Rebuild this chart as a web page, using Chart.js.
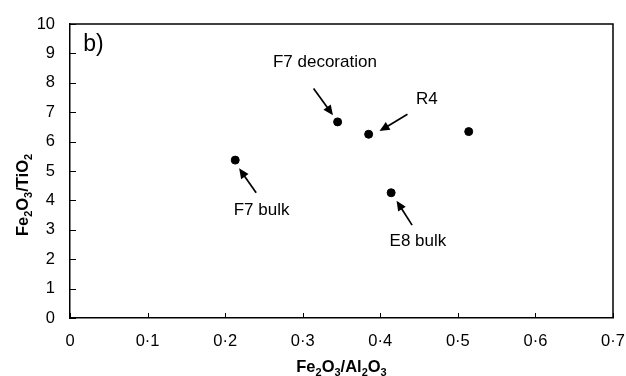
<!DOCTYPE html>
<html>
<head>
<meta charset="utf-8">
<script src="https://cdn.jsdelivr.net/npm/chart.js@4.4.1/dist/chart.umd.min.js"></script>
<style>
  html, body { margin: 0; padding: 0; background: #fff; }
  #wrap { width: 626px; height: 376px; }
</style>
</head>
<body>
<div id="wrap"><canvas id="chart" width="626" height="376"></canvas></div>
<script>
// data
const xVals = [0.213, 0.345, 0.385, 0.514, 0.414];
const yVals = [5.37, 6.67, 6.25, 6.34, 4.26];
const xTickLabels = ['0', '0·1', '0·2', '0·3', '0·4', '0·5', '0·6', '0·7'];
const yTickLabels = ['0', '1', '2', '3', '4', '5', '6', '7', '8', '9', '10'];

// annotation labels and arrows (data units)
const labels = [
    { text: 'F7 decoration', x: 0.3286, y: 8.71 },
    { text: 'R4', x: 0.46, y: 7.45 },
    { text: 'F7 bulk', x: 0.247, y: 3.67 },
    { text: 'E8 bulk', x: 0.4485, y: 2.62 }
];
const arrows = [
    { from: [0.240, 4.26], to: [0.218, 5.09] },
    { from: [0.314, 7.81], to: [0.339, 6.90] },
    { from: [0.435, 6.93], to: [0.399, 6.36] },
    { from: [0.441, 3.16], to: [0.421, 3.99] }
];

const FONT = "'Liberation Sans', Arial, sans-serif";

// draws text with subscript parts: [text, isSub]
function drawSubText(ctx, parts, cx, cy, size) {
    const subSize = Math.round(size * 0.68);
    let total = 0;
    parts.forEach(p => {
        ctx.font = 'bold ' + (p[1] ? subSize : size) + 'px ' + FONT;
        total += ctx.measureText(p[0]).width;
    });
    let x = cx - total / 2;
    ctx.textAlign = 'left';
    ctx.textBaseline = 'alphabetic';
    parts.forEach(p => {
        ctx.font = 'bold ' + (p[1] ? subSize : size) + 'px ' + FONT;
        ctx.fillText(p[0], x, cy + (p[1] ? size * 0.22 : 0));
        x += ctx.measureText(p[0]).width;
    });
}

const extras = {
    id: 'extras',
    afterDraw(chart) {
        const ctx = chart.ctx;
        const a = chart.chartArea;
        const xs = chart.scales.x, ys = chart.scales.y;
        ctx.save();
        ctx.strokeStyle = '#000';
        ctx.fillStyle = '#000';

        // top and right frame
        ctx.lineWidth = 1.5;
        ctx.beginPath();
        ctx.moveTo(a.left, a.top);
        ctx.lineTo(a.right, a.top);
        ctx.lineTo(a.right, a.bottom);
        ctx.stroke();

        // inward tick marks
        ctx.lineWidth = 1;
        ctx.beginPath();
        yTickLabels.forEach((t, i) => {
            const py = Math.round(ys.getPixelForValue(i)) + 0.5;
            ctx.moveTo(a.left, py);
            ctx.lineTo(a.left + 6, py);
        });
        xTickLabels.forEach((t, i) => {
            const px = Math.round(xs.getPixelForValue(i / 10)) + 0.5;
            ctx.moveTo(px, a.bottom);
            ctx.lineTo(px, a.bottom - 5);
        });
        ctx.stroke();

        // panel letter
        ctx.font = '23px ' + FONT;
        ctx.textAlign = 'left';
        ctx.textBaseline = 'middle';
        ctx.fillText('b)', xs.getPixelForValue(0.017), ys.getPixelForValue(9.3));

        // annotation labels
        ctx.font = '17px ' + FONT;
        ctx.textAlign = 'center';
        labels.forEach(l => {
            ctx.fillText(l.text, xs.getPixelForValue(l.x), ys.getPixelForValue(l.y));
        });

        // arrows
        arrows.forEach(ar => {
            const x1 = xs.getPixelForValue(ar.from[0]), y1 = ys.getPixelForValue(ar.from[1]);
            const x2 = xs.getPixelForValue(ar.to[0]), y2 = ys.getPixelForValue(ar.to[1]);
            const ang = Math.atan2(y2 - y1, x2 - x1);
            const hl = 10, hw = 4.5;
            ctx.lineWidth = 1.7;
            ctx.beginPath();
            ctx.moveTo(x1, y1);
            ctx.lineTo(x2 - Math.cos(ang) * hl * 0.8, y2 - Math.sin(ang) * hl * 0.8);
            ctx.stroke();
            ctx.beginPath();
            ctx.moveTo(x2, y2);
            ctx.lineTo(x2 - Math.cos(ang) * hl - Math.sin(ang) * hw, y2 - Math.sin(ang) * hl + Math.cos(ang) * hw);
            ctx.lineTo(x2 - Math.cos(ang) * hl + Math.sin(ang) * hw, y2 - Math.sin(ang) * hl - Math.cos(ang) * hw);
            ctx.closePath();
            ctx.fill();
        });

        // axis titles with subscripts
        drawSubText(ctx, [['Fe', 0], ['2', 1], ['O', 0], ['3', 1], ['/Al', 0], ['2', 1], ['O', 0], ['3', 1]],
            (a.left + a.right) / 2, 372, 16.5);
        ctx.translate(28, 195);
        ctx.rotate(-Math.PI / 2);
        drawSubText(ctx, [['Fe', 0], ['2', 1], ['O', 0], ['3', 1], ['/TiO', 0], ['2', 1]], 0, 0, 16.5);
        ctx.restore();
    }
};

const points = xVals.map((x, i) => ({ x: x, y: yVals[i] }));

new Chart(document.getElementById('chart'), {
    type: 'scatter',
    data: {
        datasets: [{
            data: points,
            backgroundColor: '#000',
            borderColor: '#000',
            pointRadius: 4,
            pointHoverRadius: 4
        }]
    },
    options: {
        responsive: false,
        animation: false,
        events: [],
        layout: { padding: { left: 0, top: 24, right: 13, bottom: 0 } },
        plugins: { legend: { display: false }, tooltip: { enabled: false } },
        scales: {
            x: {
                type: 'linear',
                min: 0, max: 0.7,
                afterFit: s => { s.height = 58; s.paddingLeft = 0; s.paddingRight = 0; },
                afterBuildTicks: s => { s.ticks = xTickLabels.map((t, i) => ({ value: i / 10 })); },
                grid: { display: true, drawOnChartArea: false, drawTicks: false },
                border: { display: true, color: '#000', width: 1.5 },
                ticks: {
                    padding: 14,
                    color: '#000',
                    font: { family: FONT, size: 16.5 },
                    maxRotation: 0,
                    callback: (v, i) => xTickLabels[i]
                }
            },
            y: {
                type: 'linear',
                min: 0, max: 10,
                afterFit: s => { s.width = 70; s.paddingTop = 0; s.paddingBottom = 0; },
                afterBuildTicks: s => { s.ticks = yTickLabels.map((t, i) => ({ value: i })); },
                grid: { display: true, drawOnChartArea: false, drawTicks: false },
                border: { display: true, color: '#000', width: 1.5 },
                ticks: {
                    padding: 15,
                    color: '#000',
                    font: { family: FONT, size: 16.5 },
                    callback: (v, i) => yTickLabels[i]
                }
            }
        }
    },
    plugins: [extras]
});
</script>
</body>
</html>
